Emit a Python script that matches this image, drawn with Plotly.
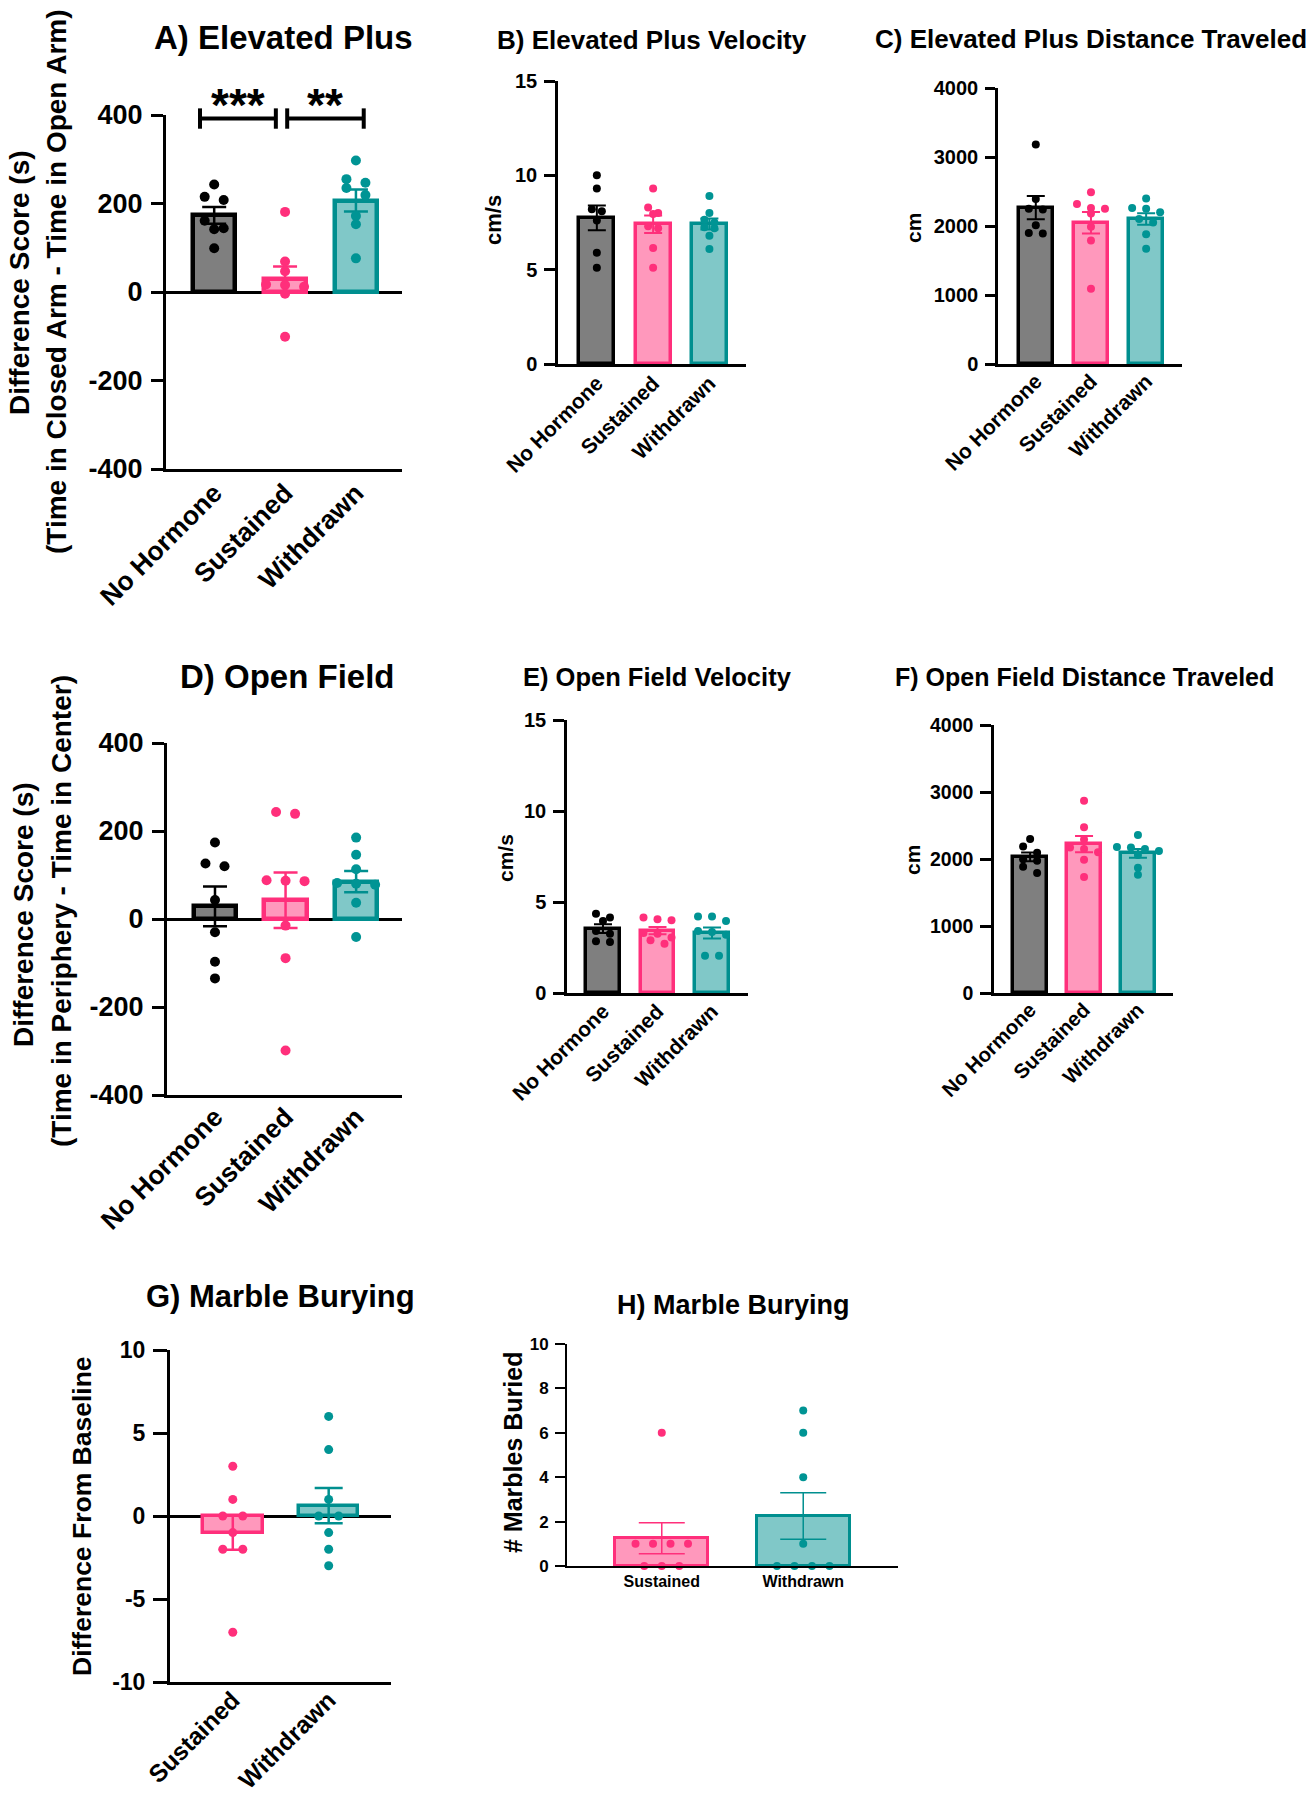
import numpy as np
import plotly.graph_objects as go

W, H = 1312, 1800
FONT = "Liberation Sans, Arial, Helvetica, sans-serif"

# ---------------- data ----------------
groups3 = ["No Hormone", "Sustained", "Withdrawn"]
groups2 = ["Sustained", "Withdrawn"]

# A) Elevated Plus difference score (s)
epm_diff_nohormone = [243, 215, 208, 161, 144, 142, 99]
epm_diff_sustained = [181, 69, 47, 17, 16, 12, -4, -101]
epm_diff_withdrawn = [297, 255, 247, 235, 219, 172, 153, 76]

# B) Elevated Plus velocity (cm/s)
epm_vel_nohormone = [10.0, 9.3, 8.2, 8.1, 7.6, 5.9, 5.1]
epm_vel_sustained = [9.3, 8.3, 8.0, 7.95, 7.3, 7.2, 6.15, 5.1]
epm_vel_withdrawn = [8.9, 8.0, 7.65, 7.5, 7.25, 7.2, 6.8, 6.1]

# C) Elevated Plus distance traveled (cm)
epm_dist_nohormone = [3180, 2390, 2250, 2240, 2010, 1900, 1890]
epm_dist_sustained = [2490, 2320, 2260, 2250, 2180, 1990, 1790, 1090]
epm_dist_withdrawn = [2400, 2260, 2250, 2200, 2100, 2050, 1880, 1670]

# D) Open Field difference score (s)
of_diff_nohormone = [174, 126, 120, 43, -30, -97, -135]
of_diff_sustained = [243, 239, 88, 87, 86, -15, -89, -299]
of_diff_withdrawn = [185, 146, 113, 82, 80, 78, 37, -41]

# E) Open Field velocity (cm/s)
of_vel_nohormone = [4.35, 4.15, 3.95, 3.4, 3.25, 2.85, 2.8]
of_vel_sustained = [4.15, 4.05, 4.0, 3.3, 3.25, 3.05, 2.9, 2.7]
of_vel_withdrawn = [4.2, 4.2, 3.95, 3.4, 3.35, 3.2, 2.05, 2.05]

# F) Open Field distance traveled (cm)
of_dist_nohormone = [2300, 2185, 2095, 1995, 1975, 1885, 1790]
of_dist_sustained = [2870, 2475, 2290, 2170, 2150, 2100, 1990, 1730]
of_dist_withdrawn = [2360, 2180, 2170, 2150, 2120, 2060, 1870, 1765]

# G) Marble burying, difference from baseline
mb_diff_sustained = [3, 1, 0, 0, -1, -2, -2, -7]
mb_diff_withdrawn = [6, 4, 1, 0, 0, -1, -2, -3]

# H) Marble burying, # marbles buried
mb_count_sustained = [6, 1, 1, 1, 1, 0, 0, 0]
mb_count_withdrawn = [7, 6, 4, 1, 0, 0, 0, 0]

# y tick values
ticks_diff = [-400, -200, 0, 200, 400]
ticks_vel = [0, 5, 10, 15]
ticks_dist = [0, 1000, 2000, 3000, 4000]
ticks_mbdiff = [-10, -5, 0, 5, 10]
ticks_mbcount = [0, 2, 4, 6, 8, 10]

# ---------------- styles ----------------
STYLE = {
    "No Hormone": dict(fill="#7f7f7f", edge="#000000", dot="#000000", err="#000000"),
    "Sustained": dict(fill="#ff98bc", edge="#ff2f7b", dot="#ff2f7b", err="#ff2f7b"),
    "Withdrawn": dict(fill="#80c8c8", edge="#008f8f", dot="#009494", err="#008f8f"),
}

panels = [
    dict(title="A) Elevated Plus", tpos=(283, 38), tsize=33,
         data=[epm_diff_nohormone, epm_diff_sustained, epm_diff_withdrawn], groups=groups3,
         xpx=(166, 402), ypx=(115, 469), yrange=[-400, 400], xrange=[-0.68, 2.65],
         yticks=ticks_diff, zero=True, lw=3, ticklen=12, tickw=3, yfs=27, xfs=26.5, angle=-45,
         dot=10, spacing=19, capw=12, errw=2.5, edgew=4.5, barw=0.6, xstand=-5,
         ytitle=[("Difference Score (s)", 19, 283), ("(Time in Closed Arm - Time in Open Arm)", 56, 282)], ytsize=28),
    dict(title="B) Elevated Plus Velocity", tpos=(652, 40), tsize=26,
         data=[epm_vel_nohormone, epm_vel_sustained, epm_vel_withdrawn], groups=groups3,
         xpx=(558, 746), ypx=(81, 364), yrange=[0, 15], xrange=[-0.69, 2.65],
         yticks=ticks_vel, zero=False, lw=2.5, ticklen=11, tickw=2.5, yfs=20, xfs=21, angle=-45,
         dot=8, spacing=10, capw=9, errw=2, edgew=3.5, barw=0.62, xstand=-4,
         ytitle=[("cm/s", 493, 220)], ytsize=22),
    dict(title="C) Elevated Plus Distance Traveled", tpos=(1091, 39), tsize=26,
         data=[epm_dist_nohormone, epm_dist_sustained, epm_dist_withdrawn], groups=groups3,
         xpx=(998, 1182), ypx=(88, 364), yrange=[0, 4000], xrange=[-0.685, 2.65],
         yticks=ticks_dist, zero=False, lw=2.5, ticklen=10, tickw=2.5, yfs=20, xfs=21, angle=-45,
         dot=8, spacing=14, capw=9, errw=2, edgew=3.5, barw=0.62, xstand=-6,
         ytitle=[("cm", 913, 228)], ytsize=21),
    dict(title="D) Open Field", tpos=(287, 676), tsize=33,
         data=[of_diff_nohormone, of_diff_sustained, of_diff_withdrawn], groups=groups3,
         xpx=(167, 402), ypx=(743, 1095), yrange=[-400, 400], xrange=[-0.68, 2.65],
         yticks=ticks_diff, zero=True, lw=3, ticklen=12, tickw=3, yfs=27, xfs=26.5, angle=-45,
         dot=10, spacing=19, capw=12, errw=2.5, edgew=4.5, barw=0.6, xstand=-7,
         ytitle=[("Difference Score (s)", 23, 915), ("(Time in Periphery - Time in Center)", 62, 911)], ytsize=28),
    dict(title="E) Open Field Velocity", tpos=(657, 677), tsize=25.5,
         data=[of_vel_nohormone, of_vel_sustained, of_vel_withdrawn], groups=groups3,
         xpx=(567, 748), ypx=(720, 993), yrange=[0, 15], xrange=[-0.66, 2.66],
         yticks=ticks_vel, zero=False, lw=2.5, ticklen=11, tickw=2.5, yfs=20, xfs=21, angle=-45,
         dot=8, spacing=14, capw=9, errw=2, edgew=3.5, barw=0.62, xstand=-5,
         ytitle=[("cm/s", 505, 858)], ytsize=21),
    dict(title="F) Open Field Distance Traveled", tpos=(1084, 677), tsize=25,
         data=[of_dist_nohormone, of_dist_sustained, of_dist_withdrawn], groups=groups3,
         xpx=(994, 1173), ypx=(725, 993), yrange=[0, 4000], xrange=[-0.67, 2.65],
         yticks=ticks_dist, zero=False, lw=2.5, ticklen=11, tickw=2.5, yfs=19.5, xfs=20.5, angle=-45,
         dot=8, spacing=14, capw=9, errw=2, edgew=3.5, barw=0.62, xstand=-6,
         ytitle=[("cm", 912, 860)], ytsize=21),
    dict(title="G) Marble Burying", tpos=(280, 1296), tsize=31,
         data=[mb_diff_sustained, mb_diff_withdrawn], groups=groups2,
         xpx=(170, 391), ypx=(1350, 1682), yrange=[-10, 10], xrange=[-0.655, 1.65],
         yticks=ticks_mbdiff, zero=True, lw=3, ticklen=14, tickw=3, yfs=23, xfs=24.5, angle=-45,
         dot=9, spacing=20, capw=14, errw=2.5, edgew=3.5, barw=0.62, xstand=-9,
         ytitle=[("Difference From Baseline", 82, 1516)], ytsize=26.5),
    dict(title="H) Marble Burying", tpos=(733, 1305), tsize=27,
         data=[mb_count_sustained, mb_count_withdrawn], groups=groups2,
         xpx=(567, 898), ypx=(1344, 1566), yrange=[0, 10], xrange=[-0.67, 1.67],
         yticks=ticks_mbcount, zero=False, lw=2, ticklen=10, tickw=2, yfs=17, xfs=16, angle=0,
         dot=8, spacing=17.5, capw=23, errw=1.5, edgew=3, barw=0.655, xstand=0,
         ytitle=[("# Marbles Buried", 513, 1453)], ytsize=25),
]


def swarm_offsets(values, px_per_unit, dot_px, spacing_px, px_per_cat):
    """GraphPad-like horizontal spreading of points that share a row."""
    order = sorted(range(len(values)), key=lambda i: -values[i])
    rows = []
    for i in order:
        if rows and (values[rows[-1][0]] - values[i]) * px_per_unit <= 0.8 * dot_px:
            rows[-1].append(i)
        else:
            rows.append([i])
    offs = [0.0] * len(values)
    for row in rows:
        n = len(row)
        for k, i in enumerate(row):
            offs[i] = (k - (n - 1) / 2) * spacing_px / px_per_cat
    return offs


fig = go.Figure()
annotations = []
shapes = []

for pi, p in enumerate(panels):
    n = pi + 1
    xa = "x" if n == 1 else f"x{n}"
    ya = "y" if n == 1 else f"y{n}"
    x0, x1 = p["xpx"]
    y0, y1 = p["ypx"]
    xdom = [x0 / W, x1 / W]
    ydom = [1 - y1 / H, 1 - y0 / H]
    px_per_unit = (y1 - y0) / (p["yrange"][1] - p["yrange"][0])
    px_per_cat = (x1 - x0) / (p["xrange"][1] - p["xrange"][0])

    for gi, (g, vals) in enumerate(zip(p["groups"], p["data"])):
        st = STYLE[g]
        arr = np.array(vals, dtype=float)
        mean = arr.mean()
        sem = arr.std(ddof=1) / np.sqrt(len(arr))
        fig.add_trace(go.Bar(
            x=[gi], y=[mean], width=p["barw"], xaxis=xa, yaxis=ya,
            marker=dict(color=st["fill"], line=dict(color=st["edge"], width=p["edgew"])),
            error_y=dict(type="data", array=[sem], visible=True, color=st["err"],
                         thickness=p["errw"], width=p["capw"]),
            showlegend=False, hoverinfo="skip"))
        offs = swarm_offsets(vals, px_per_unit, p["dot"], p["spacing"], px_per_cat)
        fig.add_trace(go.Scatter(
            x=[gi + o for o in offs], y=vals, mode="markers", xaxis=xa, yaxis=ya,
            marker=dict(color=st["dot"], size=p["dot"], line=dict(width=0)),
            showlegend=False, hoverinfo="skip", cliponaxis=False))

    fig.update_layout(**{
        ("xaxis" if n == 1 else f"xaxis{n}"): dict(
            domain=xdom, anchor=ya, range=p["xrange"], automargin=False, fixedrange=True,
            tickmode="array", tickvals=list(range(len(p["groups"]))), ticktext=p["groups"],
            tickangle=p["angle"], ticks="", showline=True, linecolor="black", linewidth=p["lw"],
            showgrid=False, zeroline=False, ticklabelstandoff=p["xstand"],
            tickfont=dict(family=FONT, size=p["xfs"], color="black", weight="bold")),
        ("yaxis" if n == 1 else f"yaxis{n}"): dict(
            domain=ydom, anchor=xa, range=p["yrange"], automargin=False, fixedrange=True,
            tickmode="array", tickvals=p["yticks"], ticktext=[str(v) for v in p["yticks"]],
            ticks="outside", ticklen=p["ticklen"],
            tickwidth=p["tickw"], tickcolor="black", showline=True, linecolor="black",
            linewidth=p["lw"], showgrid=False, zeroline=p["zero"], zerolinecolor="black",
            zerolinewidth=p["lw"], ticklabelstandoff=3,
            tickfont=dict(family=FONT, size=p["yfs"], color="black", weight="bold")),
    })

    # panel title
    tx, ty = p["tpos"]
    annotations.append(dict(text=p["title"], x=tx / W, y=1 - ty / H, xref="paper", yref="paper",
                            xanchor="center", yanchor="middle", showarrow=False,
                            font=dict(family=FONT, size=p["tsize"], color="black", weight="bold")))
    # y axis title lines
    for (txt, ax_, ay_) in p["ytitle"]:
        annotations.append(dict(text=txt, x=ax_ / W, y=1 - ay_ / H, xref="paper", yref="paper",
                                xanchor="center", yanchor="middle", showarrow=False, textangle=-90,
                                font=dict(family=FONT, size=p["ytsize"], color="black", weight="bold")))

# significance brackets in panel A (positions in data units, converted to axis-domain fractions)
pa = panels[0]
def fx(v):
    return (v - pa["xrange"][0]) / (pa["xrange"][1] - pa["xrange"][0])
def fy(v):
    return (v - pa["yrange"][0]) / (pa["yrange"][1] - pa["yrange"][0])

brackets = [(-0.2, 0.87, "***"), (1.03, 2.11, "**")]
bracket_y, bracket_tick, star_y = 392, 23, 360
for (bx0, bx1, lab) in brackets:
    line = dict(color="black", width=4)
    shapes.append(dict(type="line", xref="x domain", yref="y domain",
                       x0=fx(bx0), x1=fx(bx1), y0=fy(bracket_y), y1=fy(bracket_y), line=line))
    for bx in (bx0, bx1):
        shapes.append(dict(type="line", xref="x domain", yref="y domain",
                           x0=fx(bx), x1=fx(bx), y0=fy(bracket_y - bracket_tick),
                           y1=fy(bracket_y + bracket_tick), line=line))
    annotations.append(dict(text=lab, xref="x domain", yref="y domain",
                            x=fx((bx0 + bx1) / 2), y=fy(star_y), xanchor="center", yanchor="bottom",
                            showarrow=False,
                            font=dict(family=FONT, size=46, color="black", weight="bold")))

fig.update_layout(
    template="none",
    width=W, height=H, margin=dict(l=0, r=0, t=0, b=0, autoexpand=False),
    paper_bgcolor="white", plot_bgcolor="white", showlegend=False,
    bargap=0, annotations=annotations, shapes=shapes,
    font=dict(family=FONT, color="black"),
)

fig.write_html("out.html", config={"displayModeBar": False},
               post_script="document.body.style.margin='0';document.body.style.overflow='hidden';")
